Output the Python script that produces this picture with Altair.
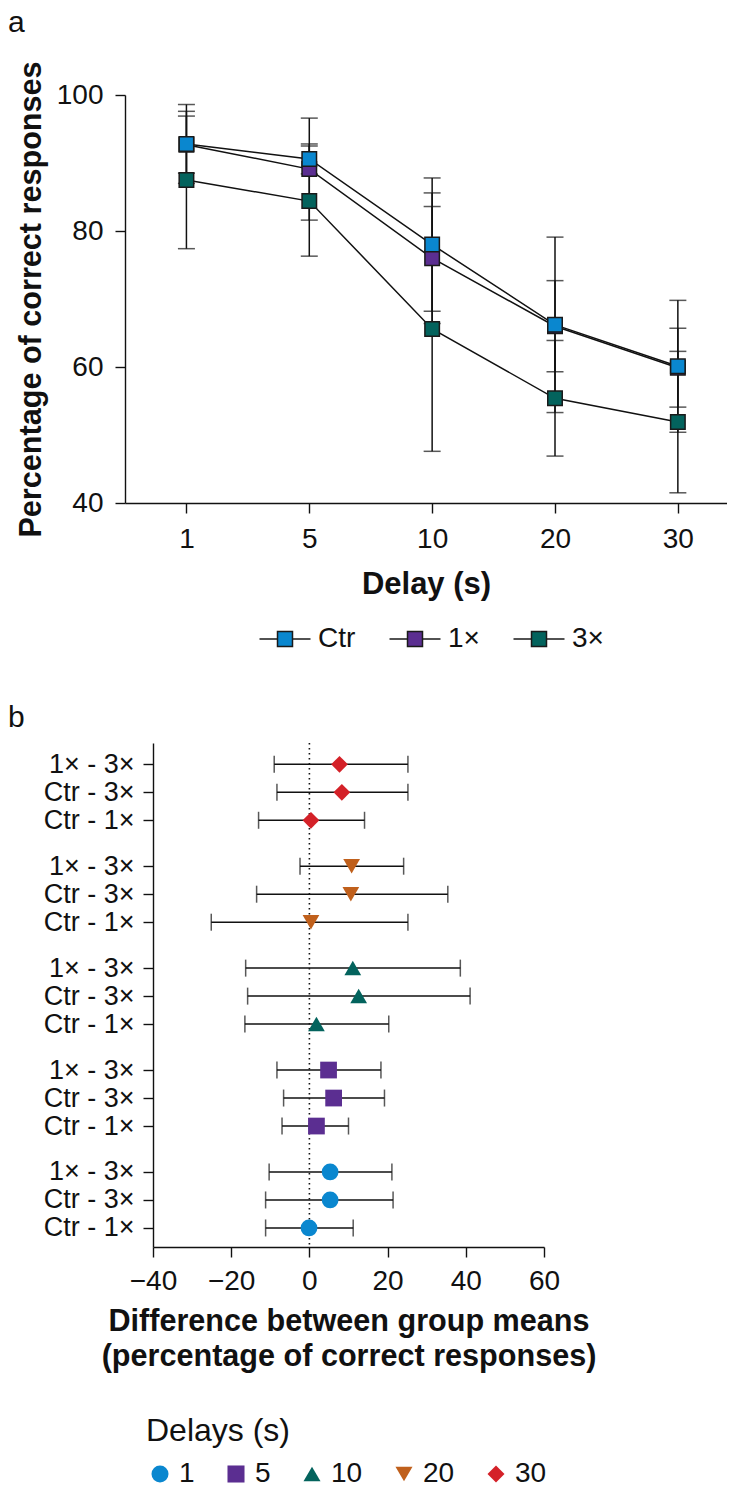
import altair as alt
import pandas as pd

FONT = "Liberation Sans"
BLACK = "#111111"

# ---------------- Panel a data ----------------
delays = ["1", "5", "10", "20", "30"]
groups = ["Ctr", "1×", "3×"]
group_colors = ["#0a87cf", "#5b2e91", "#03635d"]

ctr_mean = [92.8, 90.6, 78.0, 66.2, 60.1]
ctr_sd = [5.8, 2.2, 9.8, 12.9, 9.7]
x1_mean = [92.7, 89.1, 76.0, 66.0, 59.9]
x1_sd = [4.2, 7.5, 9.6, 6.7, 5.8]
x3_mean = [87.5, 84.4, 65.6, 55.4, 51.9]
x3_sd = [10.1, 8.1, 18.0, 8.5, 10.4]

# ---------------- Panel b data ----------------
comparisons = ["Ctr - 1×", "Ctr - 3×", "1× - 3×"]
delay_colors = ["#0a87cf", "#5b2e91", "#03635d", "#c0601c", "#d42128"]
delay_shapes = ["circle", "square", "triangle-up", "triangle-down", "diamond"]

diff_ctr_1x = [-0.1, 1.8, 1.8, 0.4, 0.4]
lo_ctr_1x = [-11.2, -7.0, -16.5, -25.1, -13.0]
hi_ctr_1x = [11.2, 10.0, 20.3, 25.2, 14.1]
diff_ctr_3x = [5.3, 6.2, 12.6, 10.6, 8.3]
lo_ctr_3x = [-11.2, -6.6, -15.8, -13.5, -8.3]
hi_ctr_3x = [21.4, 19.2, 41.1, 35.4, 25.2]
diff_1x_3x = [5.3, 4.9, 11.1, 10.8, 7.7]
lo_1x_3x = [-10.3, -8.3, -16.3, -2.4, -9.0]
hi_1x_3x = [21.1, 18.3, 38.6, 24.1, 25.2]

x_ticks_b = [-40, -20, 0, 20, 40, 60]
y_ticks_a = [40, 60, 80, 100]

# ---------------- build tables ----------------
rows_a = []
for gname, means, sds in [("3×", x3_mean, x3_sd), ("1×", x1_mean, x1_sd), ("Ctr", ctr_mean, ctr_sd)]:
    for i, d in enumerate(delays):
        rows_a.append({"group": gname, "idx": i, "mean": means[i],
                       "lo": means[i] - sds[i], "hi": means[i] + sds[i]})
df_a = pd.DataFrame(rows_a)

GROUP_STEP = 3.64
series_b = [(diff_ctr_1x, lo_ctr_1x, hi_ctr_1x), (diff_ctr_3x, lo_ctr_3x, hi_ctr_3x), (diff_1x_3x, lo_1x_3x, hi_1x_3x)]
rows_b = []
positions = []
for gi, d in enumerate(delays):
    for ri, comp in enumerate(comparisons):
        pos = round(gi * GROUP_STEP + ri, 2)
        positions.append(pos)
        dv, lv, hv = series_b[ri]
        rows_b.append({"delay": d, "comp": comp, "pos": pos, "diff": dv[gi], "lo": lv[gi], "hi": hv[gi]})
df_b = pd.DataFrame(rows_b)

# ---------------- panel a ----------------
label_arr_a = "[" + ",".join("'%s'" % d for d in delays) + "]"
xa = alt.X("idx:Q", title="Delay (s)",
           scale=alt.Scale(domain=[-0.5, 4.4], nice=False, zero=False),
           axis=alt.Axis(values=list(range(len(delays))), labelExpr=label_arr_a + "[round(datum.value)]",
                         tickSize=10, labelPadding=12, titlePadding=16, labelFontSize=28, labelFlush=False,
                         titleFontSize=31, titleFontWeight="bold"))
ya_kw = dict(title="Percentage of correct responses",
             scale=alt.Scale(domain=[40, 100], nice=False, zero=False),
             axis=alt.Axis(values=y_ticks_a, tickSize=10, labelPadding=12, titlePadding=10,
                           labelFontSize=28, titleFontSize=30.6, titleFontWeight="bold"))

lines_a = alt.Chart(df_a).mark_line(color=BLACK, strokeWidth=1.5).encode(
    x=xa, y=alt.Y("mean:Q", **ya_kw), detail="group:N")
err_a = alt.Chart(df_a).mark_errorbar(ticks=True, size=17, thickness=1.5, color=BLACK).encode(
    x=xa, y=alt.Y("lo:Q", **ya_kw), y2="hi:Q")

PATH = "M-3.4,0H-1M1,0H3.4M-1,-1H1V1H-1Z"
pts_a = alt.Chart(df_a).mark_square(size=210, stroke="#1a1a1a", strokeWidth=1.5, opacity=1).encode(
    x=xa, y=alt.Y("mean:Q", **ya_kw),
    color=alt.Color("group:N", title=None, sort=groups,
                    scale=alt.Scale(domain=groups, range=group_colors),
                    legend=alt.Legend(orient="none", legendX=146, legendY=530, direction="horizontal",
                                      symbolType=PATH, symbolSize=225, symbolStrokeColor="#1a1a1a",
                                      symbolStrokeWidth=1.5, labelFontSize=28, labelOffset=19,
                                      columnPadding=30, padding=0)))
letter_a = alt.Chart(pd.DataFrame({"t": ["a"]})).mark_text(
    align="left", baseline="alphabetic", fontSize=30, font=FONT, color=BLACK).encode(
    text="t:N", x=alt.value(-117), y=alt.value(-63))

panel_a = alt.layer(lines_a, err_a, pts_a, letter_a).properties(width=602, height=408)

# ---------------- panel b ----------------
SHIFT_B = 28
WIDTH_B = 391
label_arr_b = "[" + ",".join("'%s'" % c for c in comparisons) + "]"
step100 = int(round(GROUP_STEP * 100))
xb_kw = dict(title=["Difference between group means", "(percentage of correct responses)"],
             scale=alt.Scale(domain=[-40, 60], nice=False, zero=False, range=[SHIFT_B, SHIFT_B + WIDTH_B]),
             axis=alt.Axis(values=x_ticks_b, tickSize=10, labelPadding=10, titlePadding=11, labelFlush=False,
                           labelFontSize=28, titleFontSize=30.6, titleFontWeight="bold", titleLineHeight=35))
yb = alt.Y("pos:Q", title=None,
           scale=alt.Scale(domain=[-0.68, 17.32], nice=False, zero=False),
           axis=alt.Axis(values=positions, tickSize=10, labelPadding=9, labelFontSize=27,
                         labelOverlap=False, offset=-SHIFT_B,
                         labelExpr=label_arr_b + "[round((round(datum.value*100) %% %d)/100)]" % step100))

zero_b = alt.Chart(pd.DataFrame({"z": [0]})).mark_rule(
    strokeDash=[1.6, 3.4], strokeWidth=1.6, color=BLACK).encode(x=alt.X("z:Q", **xb_kw))
err_b = alt.Chart(df_b).mark_errorbar(ticks=True, size=17, thickness=1.5, color=BLACK).encode(
    x=alt.X("lo:Q", **xb_kw), x2="hi:Q", y=yb)
leg_b = alt.Legend(orient="none", legendX=21, legendY=673, direction="horizontal", title="Delays (s)",
                   titleFontSize=32, titleFontWeight="normal", labelFontSize=28, symbolSize=290,
                   labelOffset=5, columnPadding=27, padding=0, titlePadding=12, symbolStrokeWidth=0)
pts_b = alt.Chart(df_b).mark_point(filled=True, size=280, opacity=1).encode(
    x=alt.X("diff:Q", **xb_kw), y=yb,
    color=alt.Color("delay:N", sort=delays, scale=alt.Scale(domain=delays, range=delay_colors), legend=leg_b),
    shape=alt.Shape("delay:N", sort=delays, scale=alt.Scale(domain=delays, range=delay_shapes), legend=leg_b))
letter_b = alt.Chart(pd.DataFrame({"t": ["b"]})).mark_text(
    align="left", baseline="alphabetic", fontSize=30, font=FONT, color=BLACK).encode(
    text="t:N", x=alt.value(-117), y=alt.value(-16))

panel_b = alt.layer(zero_b, err_b, pts_b, letter_b).properties(width=SHIFT_B + WIDTH_B, height=504)

chart = alt.vconcat(panel_a, panel_b, spacing=50).resolve_scale(
    x="independent", y="independent", color="independent", shape="independent"
).resolve_legend(color="independent", shape="independent").properties(padding=0).configure(
    font=FONT
).configure_view(stroke=None).configure_axis(
    grid=False, domainColor=BLACK, domainWidth=1.4, tickColor=BLACK, tickWidth=1.4,
    labelColor=BLACK, titleColor=BLACK, labelFont=FONT, titleFont=FONT
).configure_legend(labelColor=BLACK, titleColor=BLACK, labelFont=FONT, titleFont=FONT)

chart.save("out.html", embed_options={"renderer": "svg", "actions": False})
